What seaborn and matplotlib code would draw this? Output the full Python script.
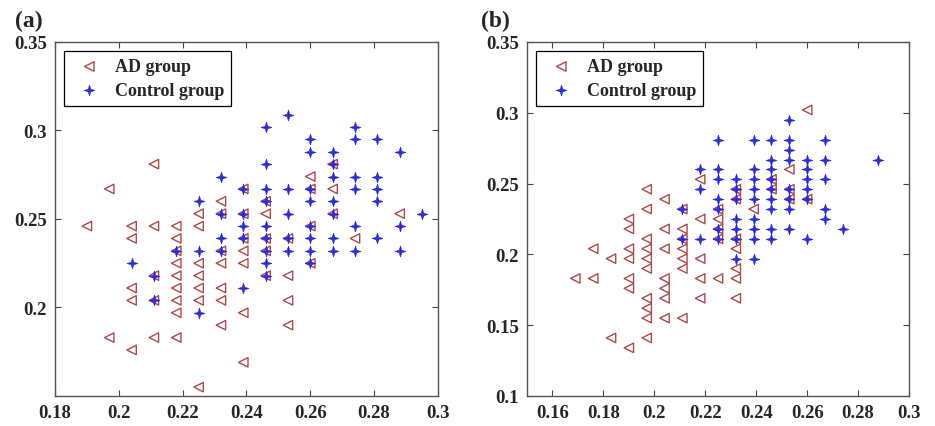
import pandas as pd
import seaborn as sns
import matplotlib.pyplot as plt
from matplotlib.path import Path
from matplotlib.ticker import FuncFormatter

sns.set_style('ticks')
plt.rcParams['font.family'] = ['Liberation Serif', 'DejaVu Serif']
plt.rcParams['font.weight'] = 'bold'

# panel (a): column x -> list of y values
ad_a = {
    0.190: [0.246],
    0.197: [0.267, 0.183],
    0.204: [0.246, 0.239, 0.211, 0.204, 0.176],
    0.211: [0.281, 0.246, 0.218, 0.204, 0.183],
    0.218: [0.246, 0.239, 0.232, 0.225, 0.218, 0.211, 0.204, 0.197, 0.183],
    0.225: [0.253, 0.246, 0.225, 0.218, 0.211, 0.204, 0.155],
    0.232: [0.260, 0.253, 0.232, 0.225, 0.211, 0.204, 0.190],
    0.239: [0.267, 0.253, 0.239, 0.232, 0.225, 0.197, 0.169],
    0.246: [0.260, 0.253, 0.239, 0.232, 0.218],
    0.253: [0.239, 0.218, 0.204, 0.190],
    0.260: [0.274, 0.267, 0.246, 0.225],
    0.267: [0.281, 0.267, 0.253],
    0.274: [0.239],
    0.288: [0.253],
}
ctrl_a = {
    0.204: [0.225],
    0.211: [0.218, 0.204],
    0.218: [0.232],
    0.225: [0.260, 0.232, 0.197],
    0.232: [0.274, 0.253, 0.239, 0.232],
    0.239: [0.267, 0.253, 0.246, 0.239, 0.211],
    0.246: [0.302, 0.281, 0.267, 0.260, 0.246, 0.239, 0.232, 0.225, 0.218],
    0.253: [0.309, 0.267, 0.253, 0.239, 0.232],
    0.260: [0.295, 0.288, 0.267, 0.260, 0.246, 0.239, 0.232, 0.225],
    0.267: [0.288, 0.281, 0.274, 0.260, 0.253, 0.239, 0.232],
    0.274: [0.302, 0.295, 0.274, 0.267, 0.246, 0.232],
    0.281: [0.295, 0.274, 0.267, 0.260, 0.239],
    0.288: [0.288, 0.246, 0.232],
    0.295: [0.253],
}

# panel (b)
ad_b = {
    0.169: [0.183],
    0.176: [0.204, 0.183],
    0.183: [0.197, 0.141],
    0.190: [0.225, 0.218, 0.204, 0.197, 0.183, 0.176, 0.134],
    0.197: [0.246, 0.232, 0.211, 0.204, 0.197, 0.190, 0.169, 0.162, 0.155, 0.141],
    0.204: [0.239, 0.218, 0.204, 0.183, 0.176, 0.169, 0.155],
    0.211: [0.232, 0.218, 0.211, 0.204, 0.197, 0.190, 0.155],
    0.218: [0.253, 0.225, 0.197, 0.183, 0.169],
    0.225: [0.232, 0.225, 0.218, 0.211, 0.183],
    0.232: [0.246, 0.239, 0.211, 0.204, 0.190, 0.183, 0.169],
    0.239: [0.232],
    0.246: [0.253, 0.246],
    0.253: [0.260, 0.246, 0.239],
    0.260: [0.302, 0.239],
}
ctrl_b = {
    0.211: [0.232, 0.211],
    0.218: [0.260, 0.246, 0.211],
    0.225: [0.281, 0.260, 0.253, 0.239, 0.232, 0.218, 0.211],
    0.232: [0.253, 0.246, 0.239, 0.225, 0.218, 0.211, 0.197],
    0.239: [0.281, 0.260, 0.253, 0.246, 0.239, 0.225, 0.218, 0.211, 0.197],
    0.246: [0.281, 0.267, 0.260, 0.253, 0.246, 0.239, 0.232, 0.218, 0.211],
    0.253: [0.295, 0.281, 0.274, 0.267, 0.246, 0.239, 0.232, 0.218],
    0.260: [0.267, 0.260, 0.253, 0.246, 0.239, 0.211],
    0.267: [0.281, 0.267, 0.253, 0.232, 0.225],
    0.274: [0.218],
    0.288: [0.267],
}

xticks_a = [0.18, 0.2, 0.22, 0.24, 0.26, 0.28, 0.3]
yticks_a = [0.2, 0.25, 0.3, 0.35]
xticks_b = [0.16, 0.18, 0.2, 0.22, 0.24, 0.26, 0.28, 0.3]
yticks_b = [0.1, 0.15, 0.2, 0.25, 0.3, 0.35]


def to_frame(cols):
    rows = [(x, y) for x, ys in cols.items() for y in ys]
    return pd.DataFrame(rows, columns=['x', 'y'])


# thin four-armed star like the matlab marker
r = 0.22
star = Path([(1, 0), (r, r), (0, 1), (-r, r), (-1, 0), (-r, -r), (0, -1), (r, -r), (1, 0)],
            closed=True)

red = '#b04848'
blue = '#2a2ae0'
fmt = FuncFormatter(lambda v, p: '%g' % v)

fig = plt.figure(figsize=(9.35, 4.27), dpi=100)
ax_a = fig.add_axes([0.0588, 0.0703, 0.4096, 0.829])
ax_b = fig.add_axes([0.5636, 0.0703, 0.4086, 0.829])

panels = [
    (ax_a, ad_a, ctrl_a, (0.18, 0.3), (0.15, 0.35), xticks_a, yticks_a, '(a)', 0.016),
    (ax_b, ad_b, ctrl_b, (0.15, 0.3), (0.1, 0.35), xticks_b, yticks_b, '(b)', 0.514),
]

for ax, ad, ctrl, xl, yl, xt, yt, tag, tx in panels:
    sns.scatterplot(data=to_frame(ad), x='x', y='y', ax=ax, marker='<', s=46,
                    facecolor='none', edgecolor=red, linewidth=1.0, label='AD group')
    sns.scatterplot(data=to_frame(ctrl), x='x', y='y', ax=ax, marker=star, s=60,
                    color=blue, edgecolor=blue, linewidth=0.5, label='Control group')
    ax.set_xlim(*xl)
    ax.set_ylim(*yl)
    ax.set_xticks(xt)
    ax.set_yticks(yt)
    ax.xaxis.set_major_formatter(fmt)
    ax.yaxis.set_major_formatter(fmt)
    ax.set_xlabel('')
    ax.set_ylabel('')
    ax.tick_params(direction='in', top=True, right=True, length=4, width=0.8,
                   labelsize=13.5, pad=6, color='#444444')
    for sp in ax.spines.values():
        sp.set_visible(True)
        sp.set_color('#555555')
        sp.set_linewidth(1.0)
    leg = ax.legend(loc='upper left', fancybox=False, frameon=True, edgecolor='black',
                    framealpha=1, prop={'weight': 'bold', 'size': 13},
                    handletextpad=0.4, borderaxespad=0.5, labelspacing=0.35,
                    borderpad=0.4)
    leg.get_frame().set_linewidth(0.9)
    fig.text(tx, 0.975, tag, fontsize=17, fontweight='bold', va='top', ha='left')

fig.savefig('out.png', dpi=100)
